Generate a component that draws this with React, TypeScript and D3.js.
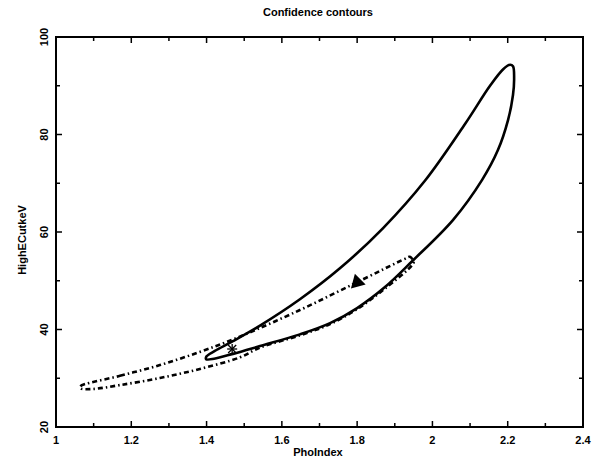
import React from "react";
import * as d3 from "d3";

const title = "Confidence contours";
const xLabel = "PhoIndex";
const yLabel = "HighECutkeV";

const xMajorTicks = [1, 1.2, 1.4, 1.6, 1.8, 2, 2.2, 2.4];
const xMinorTicks = [1.1, 1.3, 1.5, 1.7, 1.9, 2.1, 2.3];
const yMajorTicks = [20, 40, 60, 80, 100];
const yMinorTicks = [30, 50, 70, 90];

// solid contour (closed)
const solidX = [1.400, 1.422, 1.470, 1.542, 1.648, 1.755, 1.869, 1.980, 2.087, 2.153, 2.188, 2.206, 2.214, 2.217, 2.214, 2.201, 2.174, 2.132, 2.055, 1.946, 1.874, 1.800, 1.728, 1.648, 1.542, 1.470, 1.420, 1.399];
const solidY = [34.5, 35.6, 37.6, 40.8, 46.2, 52.6, 60.8, 70.5, 82.2, 90.0, 93.4, 94.3, 94.0, 91.5, 88.1, 83.0, 76.8, 70.7, 62.5, 54.0, 48.7, 44.4, 41.3, 39.0, 36.6, 35.0, 34.0, 33.9];

// dashed contour (closed)
const dashX = [1.064, 1.170, 1.276, 1.382, 1.481, 1.648, 1.800, 1.927, 1.940, 1.950, 1.946, 1.874, 1.800, 1.728, 1.648, 1.542, 1.489, 1.382, 1.276, 1.170, 1.098, 1.066];
const dashY = [28.3, 30.5, 32.7, 35.4, 38.3, 44.0, 49.7, 54.5, 54.9, 53.9, 53.2, 48.4, 44.2, 41.1, 38.8, 36.3, 34.3, 31.9, 30.05, 28.6, 27.8, 27.9];

const bestFit = [1.468, 36.0];
const otherFit = [1.80, 49.7];

const W = 595, H = 459;
const m = { left: 56, right: 583, top: 37, bottom: 427 };

export default function App() {
  const x = d3.scaleLinear().domain([1, 2.4]).range([m.left, m.right]);
  const y = d3.scaleLinear().domain([20, 100]).range([m.bottom, m.top]);

  const solidPts = solidX.map((v, i) => [v, solidY[i]] as [number, number]);
  const dashPts = dashX.map((v, i) => [v, dashY[i]] as [number, number]);
  const line = d3
    .line<[number, number]>()
    .x((d) => x(d[0]))
    .y((d) => y(d[1]))
    .curve(d3.curveCatmullRomClosed.alpha(0.5));

  const font = "'Liberation Sans', Arial, sans-serif";
  const majorLen = 6;
  const minorLen = 4;

  const tx = x(otherFit[0]);
  const ty = y(otherFit[1]);
  const tri = d3.symbol().type(d3.symbolTriangle).size(100)();

  const sx = x(bestFit[0]);
  const sy = y(bestFit[1]);

  return (
    <svg
      width={W}
      height={H}
      style={{ position: "absolute", left: 0, top: 0, background: "#fff" }}
    >
      <rect x={0} y={0} width={W} height={H} fill="#fff" />
      <text
        x={318}
        y={16}
        textAnchor="middle"
        fontFamily={font}
        fontWeight="bold"
        fontSize={11}
      >
        {title}
      </text>

      {/* frame */}
      <rect
        x={m.left}
        y={m.top}
        width={m.right - m.left}
        height={m.bottom - m.top}
        fill="none"
        stroke="#000"
        strokeWidth={2}
      />

      {/* x ticks */}
      {xMajorTicks.map((t) => (
        <g key={"xM" + t}>
          <line x1={x(t)} x2={x(t)} y1={m.bottom} y2={m.bottom - majorLen} stroke="#000" strokeWidth={1.5} />
          <line x1={x(t)} x2={x(t)} y1={m.top} y2={m.top + majorLen} stroke="#000" strokeWidth={1.5} />
          <text
            x={x(t)}
            y={m.bottom + 17}
            textAnchor="middle"
            fontFamily={font}
            fontWeight="bold"
            fontSize={11}
          >
            {String(t)}
          </text>
        </g>
      ))}
      {xMinorTicks.map((t) => (
        <g key={"xm" + t}>
          <line x1={x(t)} x2={x(t)} y1={m.bottom} y2={m.bottom - minorLen} stroke="#000" strokeWidth={1.5} />
          <line x1={x(t)} x2={x(t)} y1={m.top} y2={m.top + minorLen} stroke="#000" strokeWidth={1.5} />
        </g>
      ))}

      {/* y ticks */}
      {yMajorTicks.map((t) => (
        <g key={"yM" + t}>
          <line x1={m.left} x2={m.left + majorLen} y1={y(t)} y2={y(t)} stroke="#000" strokeWidth={1.5} />
          <line x1={m.right} x2={m.right - majorLen} y1={y(t)} y2={y(t)} stroke="#000" strokeWidth={1.5} />
          <text
            transform={`translate(${m.left - 8},${y(t)}) rotate(-90)`}
            textAnchor="middle"
            fontFamily={font}
            fontWeight="bold"
            fontSize={11}
          >
            {String(t)}
          </text>
        </g>
      ))}
      {yMinorTicks.map((t) => (
        <g key={"ym" + t}>
          <line x1={m.left} x2={m.left + minorLen} y1={y(t)} y2={y(t)} stroke="#000" strokeWidth={1.5} />
          <line x1={m.right} x2={m.right - minorLen} y1={y(t)} y2={y(t)} stroke="#000" strokeWidth={1.5} />
        </g>
      ))}

      <text
        x={318}
        y={456}
        textAnchor="middle"
        fontFamily={font}
        fontWeight="bold"
        fontSize={11}
      >
        {xLabel}
      </text>
      <text
        transform={`translate(26,240) rotate(-90)`}
        textAnchor="middle"
        fontFamily={font}
        fontWeight="bold"
        fontSize={11}
      >
        {yLabel}
      </text>

      {/* contours */}
      <path d={line(dashPts) || ""} fill="none" stroke="#000" strokeWidth={2.6} strokeDasharray="5,3,1.5,3" />
      <path d={line(solidPts) || ""} fill="none" stroke="#000" strokeWidth={2.6} />

      {/* markers */}
      <path d={tri || ""} transform={`translate(${tx},${ty}) rotate(-15)`} fill="#000" />
      <g stroke="#000" strokeWidth={1.3}>
        <line x1={sx - 5} x2={sx + 5} y1={sy} y2={sy} />
        <line x1={sx} x2={sx} y1={sy - 5} y2={sy + 5} />
        <line x1={sx - 4} x2={sx + 4} y1={sy - 4} y2={sy + 4} />
        <line x1={sx - 4} x2={sx + 4} y1={sy + 4} y2={sy - 4} />
      </g>
    </svg>
  );
}
